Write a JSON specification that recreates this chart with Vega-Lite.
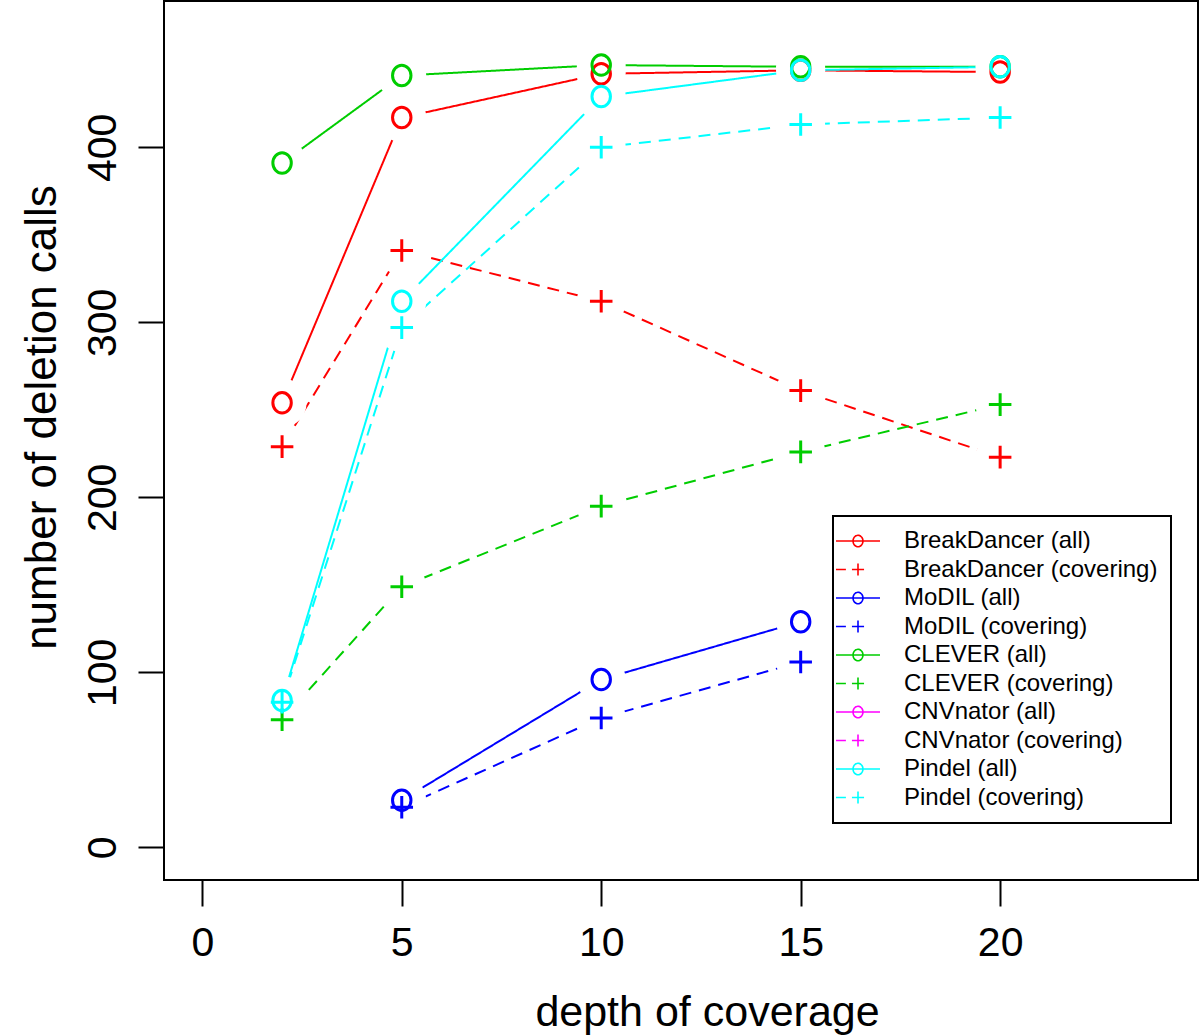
{
  "$schema": "https://vega.github.io/schema/vega-lite/v6.json",
  "width": 1034,
  "height": 879,
  "autosize": {"type": "none"},
  "padding": {"left": 164, "top": 1, "right": 2, "bottom": 155},
  "background": "white",
  "config": {
    "view": {"stroke": "black", "strokeWidth": 2, "fill": "white"},
    "axis": {
      "domain": false,
      "grid": false,
      "tickColor": "black",
      "tickWidth": 2,
      "tickSize": 26,
      "labelFont": "Liberation Sans",
      "labelFontSize": 41,
      "labelColor": "black",
      "titleFont": "Liberation Sans",
      "titleFontSize": 43,
      "titleFontWeight": "normal",
      "titleColor": "black"
    },
    "legend": {
      "orient": "none",
      "legendX": 669,
      "legendY": 515,
      "padding": 13,
      "strokeColor": "black",
      "strokeWidth": 2,
      "fillColor": "white",
      "labelFont": "Liberation Sans",
      "labelFontSize": 24,
      "labelColor": "black",
      "symbolSize": 484,
      "labelOffset": 34,
      "rowPadding": 4.5,
      "labelLimit": 400
    }
  },
  "data": {
    "values": [
      {"series": "BreakDancer (all)", "kind": "all", "depth": 2, "calls": 254},
      {"series": "BreakDancer (all)", "kind": "all", "depth": 5, "calls": 417},
      {"series": "BreakDancer (all)", "kind": "all", "depth": 10, "calls": 442},
      {"series": "BreakDancer (all)", "kind": "all", "depth": 15, "calls": 444},
      {"series": "BreakDancer (all)", "kind": "all", "depth": 20, "calls": 443},
      {"series": "BreakDancer (covering)", "kind": "covering", "depth": 2, "calls": 229},
      {"series": "BreakDancer (covering)", "kind": "covering", "depth": 5, "calls": 341},
      {"series": "BreakDancer (covering)", "kind": "covering", "depth": 10, "calls": 312},
      {"series": "BreakDancer (covering)", "kind": "covering", "depth": 15, "calls": 261},
      {"series": "BreakDancer (covering)", "kind": "covering", "depth": 20, "calls": 223},
      {"series": "MoDIL (all)", "kind": "all", "depth": 5, "calls": 27},
      {"series": "MoDIL (all)", "kind": "all", "depth": 10, "calls": 96},
      {"series": "MoDIL (all)", "kind": "all", "depth": 15, "calls": 129},
      {"series": "MoDIL (covering)", "kind": "covering", "depth": 5, "calls": 23},
      {"series": "MoDIL (covering)", "kind": "covering", "depth": 10, "calls": 74},
      {"series": "MoDIL (covering)", "kind": "covering", "depth": 15, "calls": 106},
      {"series": "CLEVER (all)", "kind": "all", "depth": 2, "calls": 391},
      {"series": "CLEVER (all)", "kind": "all", "depth": 5, "calls": 441},
      {"series": "CLEVER (all)", "kind": "all", "depth": 10, "calls": 447},
      {"series": "CLEVER (all)", "kind": "all", "depth": 15, "calls": 446},
      {"series": "CLEVER (all)", "kind": "all", "depth": 20, "calls": 446},
      {"series": "CLEVER (covering)", "kind": "covering", "depth": 2, "calls": 73},
      {"series": "CLEVER (covering)", "kind": "covering", "depth": 5, "calls": 149},
      {"series": "CLEVER (covering)", "kind": "covering", "depth": 10, "calls": 195},
      {"series": "CLEVER (covering)", "kind": "covering", "depth": 15, "calls": 226},
      {"series": "CLEVER (covering)", "kind": "covering", "depth": 20, "calls": 253},
      {"series": "Pindel (all)", "kind": "all", "depth": 2, "calls": 84},
      {"series": "Pindel (all)", "kind": "all", "depth": 5, "calls": 312},
      {"series": "Pindel (all)", "kind": "all", "depth": 10, "calls": 429},
      {"series": "Pindel (all)", "kind": "all", "depth": 15, "calls": 444},
      {"series": "Pindel (all)", "kind": "all", "depth": 20, "calls": 446},
      {"series": "Pindel (covering)", "kind": "covering", "depth": 2, "calls": 83},
      {"series": "Pindel (covering)", "kind": "covering", "depth": 5, "calls": 297},
      {"series": "Pindel (covering)", "kind": "covering", "depth": 10, "calls": 400},
      {"series": "Pindel (covering)", "kind": "covering", "depth": 15, "calls": 413},
      {"series": "Pindel (covering)", "kind": "covering", "depth": 20, "calls": 417}
    ]
  },
  "encoding": {
    "x": {
      "field": "depth",
      "type": "quantitative",
      "scale": {"domain": [-0.96, 24.96], "nice": false, "zero": false},
      "axis": {
        "title": "depth of coverage",
        "values": [0, 5, 10, 15, 20],
        "labelBaseline": "top",
        "labelPadding": 17,
        "labelFlush": false,
        "labelOverlap": false,
        "titleX": 543,
        "titleY": 145,
        "titleAlign": "center",
        "titleBaseline": "alphabetic"
      }
    },
    "y": {
      "field": "calls",
      "type": "quantitative",
      "scale": {"domain": [-18.6, 483.6], "nice": false, "zero": false},
      "axis": {
        "title": "number of deletion calls",
        "values": [0, 100, 200, 300, 400],
        "labelAngle": -90,
        "labelAlign": "center",
        "labelBaseline": "alphabetic",
        "labelPadding": 23,
        "labelFlush": false,
        "labelOverlap": false,
        "titleX": -109,
        "titleY": 416,
        "titleFontSize": 44,
        "titleAngle": -90,
        "titleAlign": "center",
        "titleBaseline": "alphabetic"
      }
    }
  },
  "layer": [
    {
      "mark": {"type": "line", "strokeWidth": 2},
      "encoding": {
        "detail": {"field": "series"},
        "color": {
          "field": "series",
          "type": "nominal",
          "sort": null,
          "scale": {
            "domain": ["BreakDancer (all)", "BreakDancer (covering)", "MoDIL (all)", "MoDIL (covering)", "CLEVER (all)", "CLEVER (covering)", "CNVnator (all)", "CNVnator (covering)", "Pindel (all)", "Pindel (covering)"],
            "range": ["#FF0000", "#FF0000", "#0000FF", "#0000FF", "#00CD00", "#00CD00", "#FF00FF", "#FF00FF", "#00FFFF", "#00FFFF"]
          },
          "legend": {
            "title": null,
            "encode": {
              "symbols": {
                "update": {
                  "shape": {"signal": "indexof(datum.value, 'covering') >= 0 ? 'M-2,0H-1.1M-0.55,0H0.55M0,-0.55V0.55' : 'M-2,0H2M0,-0.52A0.45,0.52,0,1,1,0,0.52A0.45,0.52,0,1,1,0,-0.52Z'"},
                  "strokeWidth": {"value": 1.6},
                  "fill": {"value": "transparent"},
                  "strokeDash": {"value": [1, 0]},
                  "opacity": {"value": 1}
                }
              }
            }
          }
        },
        "strokeDash": {
          "field": "kind",
          "type": "nominal",
          "scale": {"domain": ["all", "covering"], "range": [[1, 0], [12, 8]]},
          "legend": null
        }
      }
    },
    {
      "mark": {"type": "point", "shape": "circle", "filled": true, "fill": "white", "color": "white", "strokeWidth": 0, "size": 2400, "opacity": 1},
      "encoding": {}
    },
    {
      "mark": {"type": "point", "filled": false, "strokeWidth": 3, "size": 420, "opacity": 1},
      "encoding": {
        "color": {"field": "series", "type": "nominal", "sort": null},
        "shape": {
          "field": "kind",
          "type": "nominal",
          "scale": {
            "domain": ["all", "covering"],
            "range": ["M0,-1A0.9,1,0,1,1,0,1A0.9,1,0,1,1,0,-1Z", "M-1.1,0H1.1M0,-1.1V1.1"]
          },
          "legend": null
        }
      }
    }
  ]
}
